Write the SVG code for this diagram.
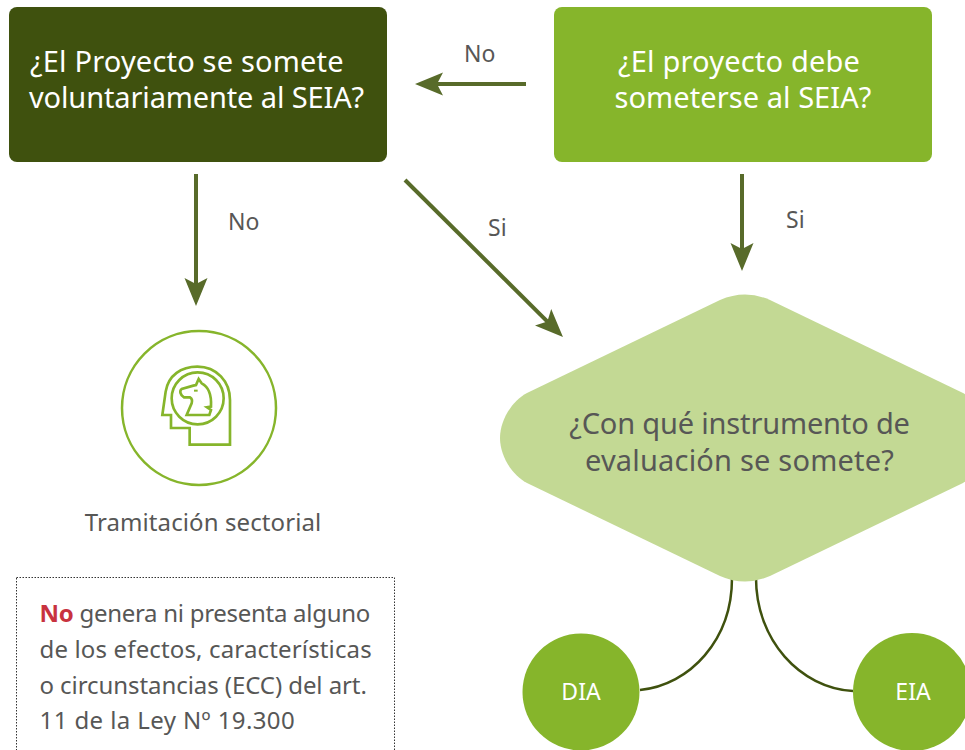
<svg xmlns="http://www.w3.org/2000/svg" width="965" height="750" viewBox="0 0 965 750">
<style>
text{font-family:"Noto Sans","Open Sans",sans-serif}
.c{text-anchor:middle}
.w{fill:#fff}
.g{fill:#575756}
.q{font-size:29px}
.l{font-size:23px}
.b{font-size:24px}
.arrow{fill:none;stroke:#586b2a;stroke-width:4;marker-end:url(#ah)}
.link{fill:none;stroke:#3f510e;stroke-width:2.5}
.ic{fill:none;stroke:#86b52b}
</style>
<defs>
<marker id="ah" markerUnits="userSpaceOnUse" markerWidth="30" markerHeight="26" refX="10" refY="13" orient="auto">
<path d="M0 1.500 L28 13 L0 24.500 L6 13 Z" fill="#586b2a"/>
</marker>
</defs>
<rect width="965" height="750" fill="#fff"/>
<g id="connectors">
<path class="arrow" d="M526 84 H433"/>
<path class="arrow" d="M196 174 V288"/>
<path class="arrow" d="M405 180 L550.200 324.300"/>
<path class="arrow" d="M742 174 V253"/>
<path class="link" d="M732 578 C732 640 690 685 640 690"/>
<path class="link" d="M756 578 C756 640 800 688 853 691"/>
</g>
<g id="node-voluntario">
<rect x="9" y="7" width="378" height="155" rx="8" fill="#3f510e"/>
<text class="q w" x="30" y="72" letter-spacing=".18">¿El Proyecto se somete</text>
<text class="q w" x="29" y="108" letter-spacing="-.13">voluntariamente al SEIA?</text>
</g>
<g id="node-debe">
<rect x="554" y="7" width="378" height="155" rx="8" fill="#86b52b"/>
<text class="q w c" x="739" y="72" letter-spacing=".18">¿El proyecto debe</text>
<text class="q w c" x="743" y="108" letter-spacing=".06">someterse al SEIA?</text>
</g>
<g id="label-no-1"><text class="l g" x="464" y="62">No</text></g>
<g id="label-no-2"><text class="l g" x="228" y="230">No</text></g>
<g id="label-si-1"><text class="l g" x="488" y="236">Si</text></g>
<g id="label-si-2"><text class="l g" x="786" y="228">Si</text></g>
<g id="node-tramitacion">
<circle cx="199" cy="408" r="77" fill="none" stroke="#86b52b" stroke-width="2.500"/>
<g transform="translate(110 320) scale(.3333)">
<path class="ic" stroke-width="8" d="M157 285 L167 215 C175 165 215 140 262 140 C320 140 360 185 360 240 V374 H239 V324 H183 V285 Z"/>
<circle class="ic" stroke-width="8" cx="263" cy="235" r="78"/>
<path class="ic" stroke-width="8" d="M266 177 L275 190 C295 200 305 225 303 260 L291 262 L303 270 L298 285 H230 L245 250 C248 240 245 235 240 232 H222 C210 225 208 212 215 207 L250 197 L258 195 Z"/>
<path class="ic" stroke-width="6" d="M252 212 H263"/>
</g>
<text class="b g c" x="203" y="531" letter-spacing=".1">Tramitación sectorial</text>
</g>
<g id="node-nota">
<rect x="16.500" y="577.500" width="378" height="190" fill="none" stroke="#333" stroke-width="1" stroke-dasharray="1.500 1.500"/>
<text class="b g" x="39.500" y="622" letter-spacing="-.28"><tspan font-weight="700" fill="#c8323f">No</tspan> genera ni presenta alguno</text>
<text class="b g" x="39.500" y="658" letter-spacing=".15">de los efectos, características</text>
<text class="b g" x="39.500" y="694" letter-spacing="-.07">o circunstancias (ECC) del art.</text>
<text class="b g" x="39.500" y="729" letter-spacing=".4">11 de la Ley Nº 19.300</text>
</g>
<g id="node-instrumento">
<path d="M720 300 Q745 289 770 300 L963 393 C978 401 990 420 990 438 C990 456 978 475 963 483 L770 576 Q745 587 720 576 L527 483 C512 475 500 456 500 438 C500 420 512 401 527 393 Z" fill="#c3d994"/>
<text class="q g c" x="739.500" y="434" letter-spacing="-.17">¿Con qué instrumento de</text>
<text class="q g c" x="739.500" y="471" letter-spacing=".2">evaluación se somete?</text>
</g>
<g id="node-dia">
<circle cx="581" cy="692" r="58.500" fill="#86b52b"/>
<text class="l w c" x="581" y="700">DIA</text>
</g>
<g id="node-eia">
<circle cx="912" cy="692" r="59" fill="#86b52b"/>
<text class="l w c" x="913" y="700">EIA</text>
</g>
</svg>
